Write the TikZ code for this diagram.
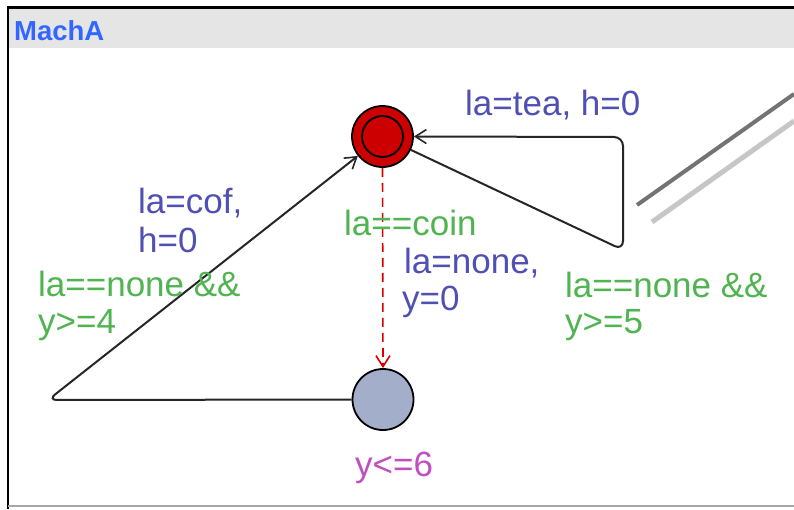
\documentclass[tikz,border=0pt]{standalone}
\usepackage{fontspec}
\setmainfont{Liberation Sans}
\usetikzlibrary{arrows.meta}
\definecolor{hdr}{HTML}{E5E5E5}
\definecolor{hdrtext}{HTML}{3366FF}
\definecolor{upblue}{HTML}{5050B4}
\definecolor{upgreen}{HTML}{50B450}
\definecolor{upmag}{HTML}{C050C0}
\definecolor{locred}{HTML}{CC0000}
\definecolor{locblue}{HTML}{A3AECB}
\tikzset{
  lbl/.style={anchor=base west, inner sep=0pt, font=\fontsize{35}{35}\selectfont},
  asg/.style={lbl, text=upblue},
  grd/.style={lbl, text=upgreen},
  inv/.style={lbl, text=upmag},
  loc/.style={circle, draw=black, line width=1.8pt, minimum size=61pt, inner sep=0pt},
  edge/.style={draw=black!85, line width=2pt, rounded corners=9pt, -{Straight Barb[length=11pt,width=14pt,line width=1.6pt]}},
}
\begin{document}
\begin{tikzpicture}[x=1pt,y=-1pt]
\useasboundingbox (0,0) rectangle (794,509);
% frame
\fill[white] (0,0) rectangle (794,509);
\fill[hdr] (9,9) rectangle (794,48);
\draw[black, line width=2.5pt] (8,509) -- (8,7.5) -- (794,7.5);
\draw[gray!70, line width=1.2pt] (8,506) -- (794,506);
\node[anchor=base west, inner sep=0pt, text=hdrtext, font=\fontsize{27.5}{27.5}\selectfont\bfseries] (title) at (14,40) {MachA};
% locations
\node[loc, fill=locred] (A) at (382.5,136.5) {};
\node[circle, draw=black, line width=1.8pt, minimum size=41pt, inner sep=0pt] (Ain) at (A.center) {};
\node[loc, fill=locblue] (B) at (383,399.5) {};
% decoration lines at right
\draw[gray!90!black, line width=4pt] (637,205) -- (794,94);
\draw[gray!45, line width=5pt] (652,222) -- (794,121);
% corner coordinates
\coordinate (c1) at (48,400);
\coordinate (t1) at (623,250);
\coordinate (t2) at (623,137);
% edges
\draw[edge] (B.west) -- (c1) -- (A);
\draw[edge] (A) -- (t1) -- (t2) -- (A.east);
\draw[red!85!black, line width=1.6pt, dash pattern=on 9pt off 6pt, -{Straight Barb[length=11pt,width=14pt,line width=1.6pt]}] (A.south) -- (B.north);
% labels
\node[asg] (l1) at (465,115) {la=tea, h=0};
\node[asg] (l2) at (138,213) {la=cof,};
\node[asg] (l3) at (138,252) {h=0};
\node[grd] (l4) at (38,296) {la==none \&\&};
\node[grd] (l5) at (38,333) {y>=4};
\node[grd] (l6) at (344,235) {la==coin};
\node[asg] (l7) at (404,273) {la=none,};
\node[asg] (l8) at (402,310) {y=0};
\node[grd] (l9) at (565,297) {la==none \&\&};
\node[grd] (l10) at (565,333) {y>=5};
\node[inv] (l11) at (355,476) {y<=6};
\end{tikzpicture}
\end{document}
